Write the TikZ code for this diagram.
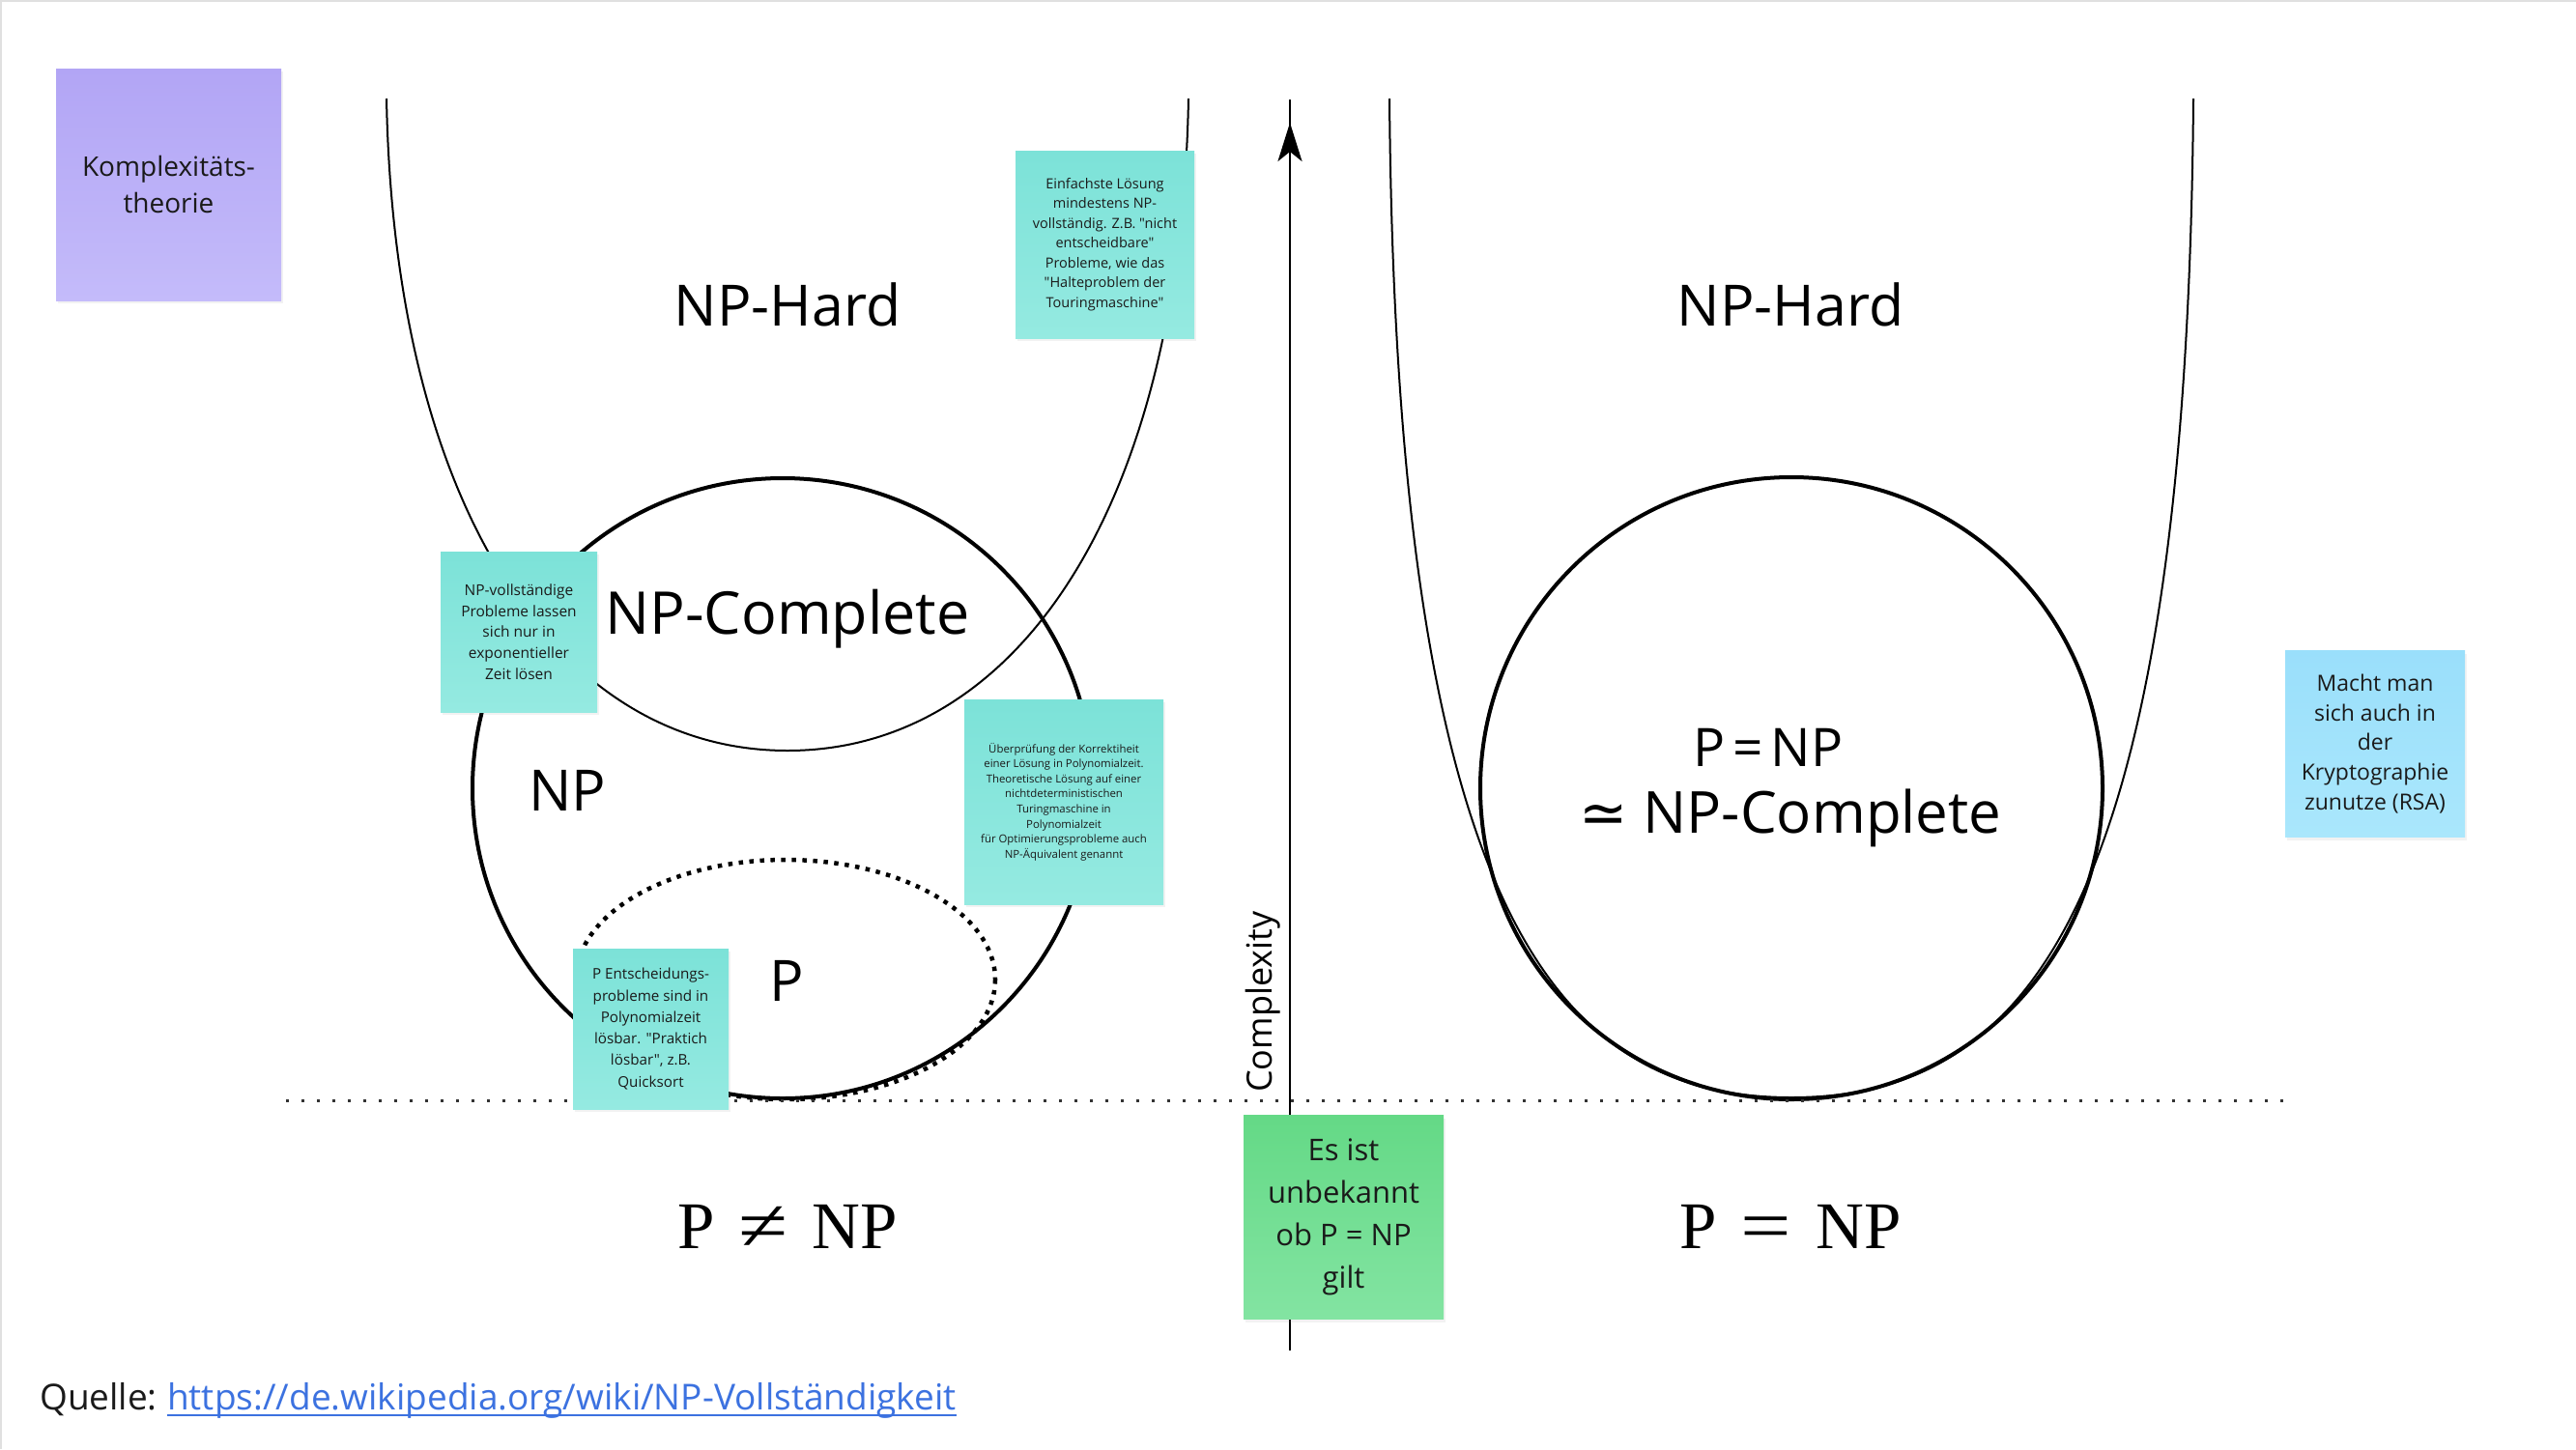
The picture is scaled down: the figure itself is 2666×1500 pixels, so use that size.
\documentclass[tikz,border=0pt]{standalone}
\usepackage{graphicx}
\usepackage{fontspec}
\setmainfont{Open Sans}[Ligatures=TeXOff]
\newfontfamily\djv{DejaVu Sans}
\newfontfamily\serf{Liberation Serif}
\usetikzlibrary{arrows.meta,shadows}
\definecolor{ink}{HTML}{1A1A1A}
\definecolor{tealA}{HTML}{7CE2D8}
\definecolor{tealB}{HTML}{95EAE1}
\definecolor{lilaA}{HTML}{B2A5F5}
\definecolor{lilaB}{HTML}{C4BBFA}
\definecolor{greenA}{HTML}{64D986}
\definecolor{greenB}{HTML}{83E4A2}
\definecolor{blueA}{HTML}{9ADFFB}
\definecolor{blueB}{HTML}{AAE7FC}
\definecolor{link}{HTML}{3C72E0}
\newcommand{\bigrel}[1]{\raisebox{-2pt}{\scalebox{1.35}[1.1]{#1}}}
\tikzset{
  sticky/.style={draw=none, align=center, text=ink, inner sep=0pt,
    drop shadow={opacity=0.10, shadow xshift=1.5pt, shadow yshift=-3pt}},
  tealnote/.style={sticky, top color=tealA, bottom color=tealB},
  lilanote/.style={sticky, top color=lilaA, bottom color=lilaB},
  greennote/.style={sticky, top color=greenA, bottom color=greenB},
  bluenote/.style={sticky, top color=blueA, bottom color=blueB},
  biglabel/.style={font=\fontsize{59}{70}\selectfont, text=black, inner sep=0pt},
  serlabel/.style={font=\serf\fontsize{69}{72}\selectfont, text=black, inner sep=0pt},
  uline/.style={line width=2pt, black},
  setline/.style={line width=4pt, black},
  pdots/.style={line width=4.5pt, dash pattern=on 4.5pt off 6.5pt},
  basedots/.style={line width=3pt, dash pattern=on 3pt off 13pt, black!80},
}
\begin{document}
\begin{tikzpicture}[x=1pt,y=-1pt]
\useasboundingbox[fill=white] (0,0) rectangle (2666,1500);
\draw[black!12, line width=2pt] (1,1500) -- (1,1) -- (2666,1);

% U curves (NP-Hard)
\draw[uline] (400,102) .. controls (408,527) and (578,777) .. (815,777)
             .. controls (1052,777) and (1222,527) .. (1230,102);
\draw[uline] (1438,102) .. controls (1445,952) and (1615,1136) .. (1854,1136)
             .. controls (2093,1136) and (2263,952) .. (2270,102);

% sets
\draw[setline] (810,816) circle[radius=321];
\draw[pdots] (813,1014) circle[x radius=217, y radius=124];
\draw[setline] (1854,816) circle[radius=322];

% baseline
\coordinate (bl) at (296,1139);
\coordinate (br) at (2372,1139);
\draw[basedots] (bl) -- (br);

% axis
\coordinate (axb) at (1335,1398);
\coordinate (axt) at (1335,103);
\coordinate (arb) at (1335,170);
\coordinate (art) at (1335,127);
\draw[line width=2.5pt] (axb) -- (axt);
\draw[line width=2.5pt, -{Stealth[length=40pt,width=25pt,inset=10pt]}] (arb) -- (art);
\node[rotate=90, font=\fontsize{36}{40}\selectfont, inner sep=0pt] (cx) at (1307,1037) {Complexity};

% labels
\node[biglabel] (nph1) at (815,315) {NP-Hard};
\node[biglabel] (nph2) at (1853,315) {NP-Hard};
\node[biglabel, font=\fontsize{61}{70}\selectfont] (npc) at (815,641) {NP-Complete};
\node[biglabel] (np) at (587,818) {NP};
\node[biglabel] (p) at (814,1015) {P};
\node[biglabel, font=\fontsize{55}{70}\selectfont] (peq) at (1830,774) {P\hspace{0.14em}=\hspace{0.14em}NP};
\node[biglabel, font=\fontsize{60}{70}\selectfont] (eqc) at (1853,847) {{\djv ≃} NP-Complete};
\node[serlabel] (neq) at (815,1271) {P\hspace{0.36em}\bigrel{≠}\hspace{0.36em}NP};
\node[serlabel] (eq) at (1853,1271) {P\hspace{0.36em}\bigrel{=}\hspace{0.36em}NP};

% sticky notes
\node[lilanote, minimum width=233, minimum height=240,
      font=\fontsize{28}{37.5}\selectfont] (kt) at (174.5,191)
  {Komplexitäts-\\theorie};
\node[tealnote, minimum width=185, minimum height=194,
      font=\fontsize{14.5}{20.5}\selectfont] (n1) at (1143.5,253)
  {Einfachste Lösung\\mindestens NP-\\vollständig. Z.B. "nicht\\entscheidbare"\\Probleme, wie das\\"Halteproblem der\\Touringmaschine"};
\node[tealnote, minimum width=162, minimum height=166,
      font=\fontsize{15.5}{21.7}\selectfont] (n2) at (537,654)
  {NP-vollständige\\Probleme lassen\\sich nur in\\exponentieller\\Zeit lösen};
\node[tealnote, minimum width=206, minimum height=212,
      font=\fontsize{11.4}{15.6}\selectfont] (n3) at (1101,830)
  {Überprüfung der Korrektiheit\\einer Lösung in Polynomialzeit.\\Theoretische Lösung auf einer\\nichtdeterministischen\\Turingmaschine in\\Polynomialzeit\\für Optimierungsprobleme auch\\NP-Äquivalent genannt};
\node[tealnote, minimum width=161, minimum height=166,
      font=\fontsize{15.2}{22.3}\selectfont] (n4) at (673.5,1065)
  {P Entscheidungs-\\probleme sind in\\Polynomialzeit\\lösbar. "Praktich\\lösbar", z.B.\\Quicksort};
\node[bluenote, minimum width=186, minimum height=193,
      font=\fontsize{23}{30.6}\selectfont] (n5) at (2458,770)
  {Macht man\\sich auch in\\der\\Kryptographie\\zunutze (RSA)};
\node[greennote, minimum width=207, minimum height=211,
      font=\fontsize{31}{44}\selectfont] (n6) at (1390.5,1260)
  {Es ist\\unbekannt\\ob P = NP\\gilt};

% source
\node[anchor=base west, inner sep=0pt, font=\fontsize{37}{40}\selectfont, text=ink] (src) at (41,1459) {Quelle:};
\node[anchor=base west, inner sep=0pt, font=\fontsize{37}{40}\selectfont, text=link] (url) at ([xshift=10pt]src.base east) {https://de.wikipedia.org/wiki/NP-Vollständigkeit};
\draw[link, line width=2.5pt] ([yshift=-6pt]url.base west) -- ([yshift=-6pt]url.base east);
\end{tikzpicture}
\end{document}
